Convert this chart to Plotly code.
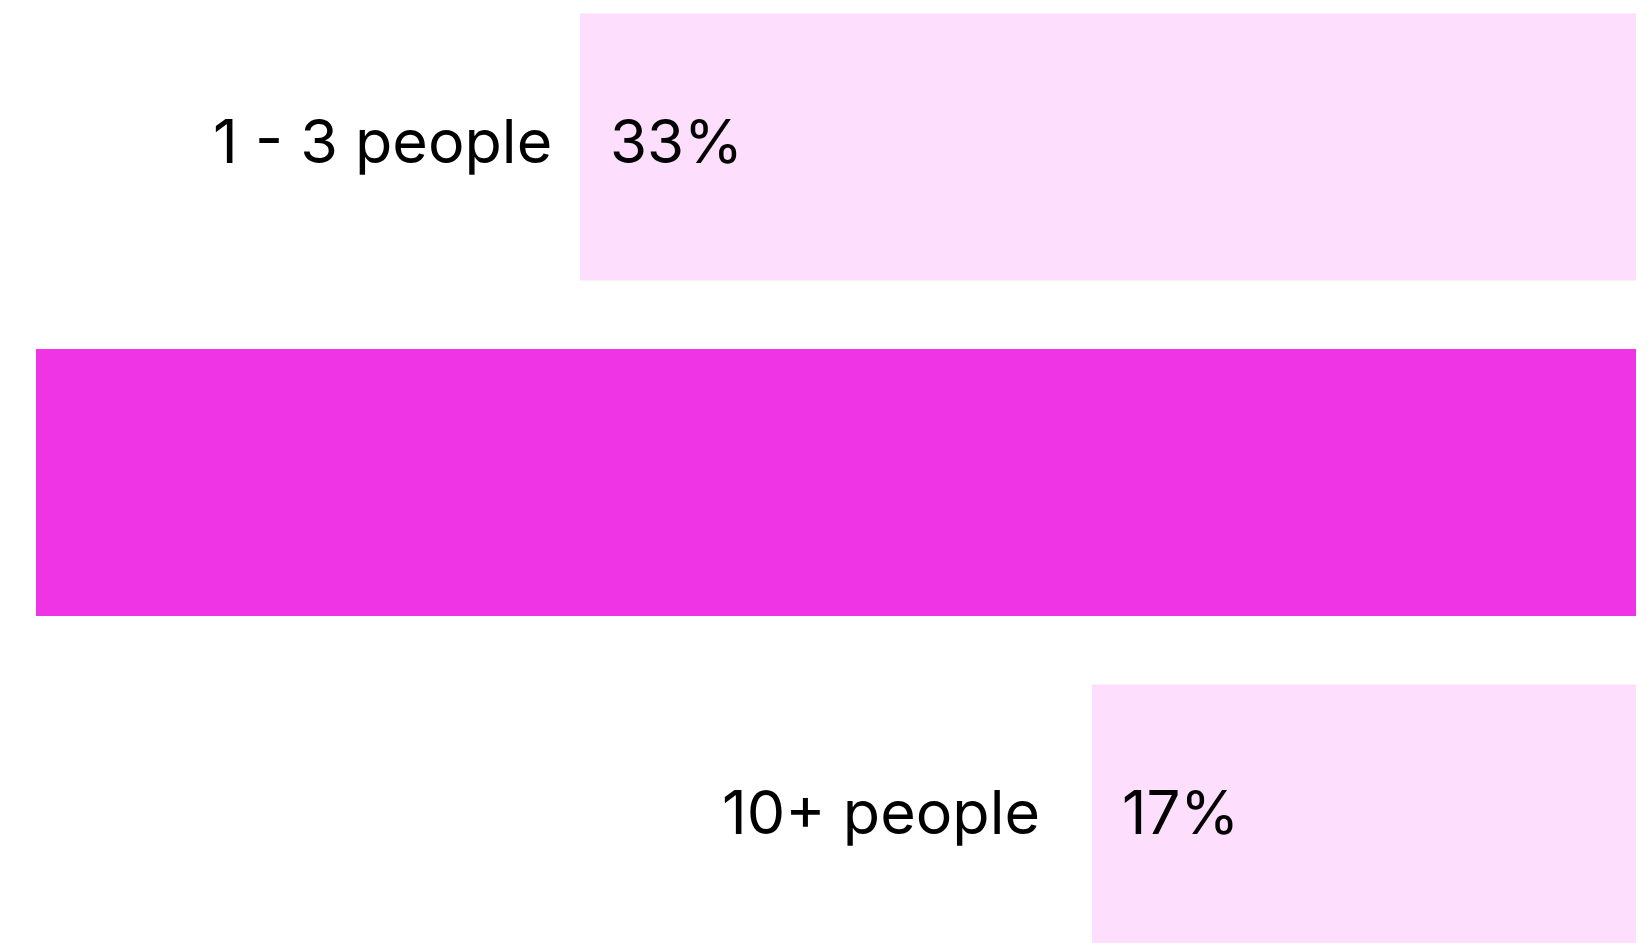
import plotly.graph_objects as go

categories = ["1 - 3 people", "4 - 9 people", "10+ people"]
shares = [33, 50, 17]
highlight = [False, True, False]

LIGHT = "#FDDEFC"
STRONG = "#EE34E4"
FONT = "Inter, 'Noto Sans', sans-serif"
LABEL_GAPS = [26, 26, 50]  # px between category label and bar edge


def main() -> None:
    colors = [STRONG if h else LIGHT for h in highlight]

    fig = go.Figure(
        go.Bar(
            x=shares,
            y=categories,
            orientation="h",
            marker=dict(color=colors, line=dict(width=0)),
            width=0.796,
            hoverinfo="skip",
        )
    )

    # labels only for the light bars; the big bar carries none in the original
    for cat, val, h, gap in zip(categories, shares, highlight, LABEL_GAPS):
        if h:
            continue
        fig.add_annotation(
            x=val, y=cat, text=cat, showarrow=False,
            xanchor="right", yanchor="middle", xshift=-gap, yshift=6,
            font=dict(family=FONT, size=61, color="#000000"),
        )
        fig.add_annotation(
            x=val, y=cat, text=f"{val}%", showarrow=False,
            xanchor="left", yanchor="middle", xshift=28, yshift=6,
            font=dict(family=FONT, size=60, color="#000000"),
        )

    fig.update_layout(
        width=1650,
        height=943,
        margin=dict(l=0, r=0, t=0, b=0),
        paper_bgcolor="white",
        plot_bgcolor="white",
        showlegend=False,
        xaxis=dict(range=[51.125, -0.4375], visible=False, fixedrange=True),
        yaxis=dict(
            range=[2.3726, -0.438],
            visible=False,
            categoryorder="array",
            categoryarray=categories,
            fixedrange=True,
        ),
    )

    fig.write_html(
        "out.html",
        config={"displayModeBar": False},
        post_script="document.body.style.margin='0';document.body.style.overflow='hidden';",
    )


if __name__ == "__main__":
    main()
